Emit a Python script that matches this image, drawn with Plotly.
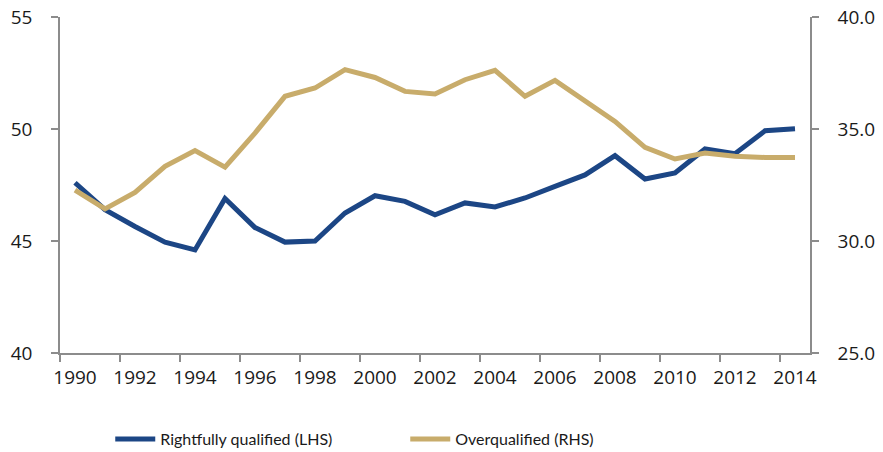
import plotly.graph_objects as go

years = list(range(1990, 2015))
rightfully_qualified = [47.6, 46.4, 45.65, 44.95, 44.6, 46.9, 45.6, 44.95, 45.0, 46.25,
                        47.02, 46.77, 46.17, 46.7, 46.52, 46.92, 47.44, 47.95, 48.81, 47.77,
                        48.04, 49.11, 48.9, 49.92, 50.01]
overqualified = [32.27, 31.43, 32.17, 33.33, 34.04, 33.3, 34.82, 36.46, 36.83, 37.65,
                 37.3, 36.68, 36.56, 37.2, 37.62, 36.46, 37.17, 36.28, 35.34, 34.18,
                 33.66, 33.93, 33.78, 33.73, 33.73]
left_ticks = [40, 45, 50, 55]
right_ticks = [25, 30, 35, 40]
x_labels = list(range(1990, 2015, 2))

BLUE = "#1C4685"
GOLD = "#C8AC6B"
AXIS = "#8C8C8C"
FONT = "Open Sans, Noto Sans, sans-serif"
LEGEND_FONT = "Lato, sans-serif"

fig = go.Figure()
fig.add_trace(go.Scatter(x=years, y=rightfully_qualified, mode="lines",
                         name="Rightfully qualified (LHS)",
                         line=dict(color=BLUE, width=5)))
fig.add_trace(go.Scatter(x=years, y=overqualified, mode="lines",
                         name="Overqualified (RHS)", yaxis="y2",
                         line=dict(color=GOLD, width=5)))

fig.update_layout(
    width=883, height=452,
    margin=dict(l=60, r=73, t=17, b=99, autoexpand=False),
    paper_bgcolor="white", plot_bgcolor="white",
    font=dict(family=FONT, size=19, color="#1a1a1a"),
    showlegend=True,
    legend=dict(orientation="h", x=0.067, xanchor="left", y=-0.256, yanchor="middle",
                font=dict(size=16, family=LEGEND_FONT), entrywidth=240,
                entrywidthmode="pixels", itemwidth=40),
    xaxis=dict(range=[1989.5, 2014.5], tickvals=x_labels, ticktext=[str(v) for v in x_labels],
               ticks="", showgrid=False, zeroline=False, automargin=False,
               showline=True, linecolor=AXIS, linewidth=1.5, ticklabeloverflow="allow",
               minor=dict(ticks="outside", tick0=1989.5, dtick=2, ticklen=7,
                          tickcolor=AXIS, tickwidth=1.5, showgrid=False),
               ticklabelstandoff=6),
    yaxis=dict(range=[40, 55], tickvals=left_ticks, ticks="outside", ticklen=7,
               tickcolor=AXIS, tickwidth=1.5, showgrid=False, zeroline=False,
               automargin=False, ticklabeloverflow="allow",
               showline=True, linecolor=AXIS, linewidth=1.5, ticklabelstandoff=15),
    yaxis2=dict(range=[25, 40], tickvals=right_ticks, tickformat=".1f", overlaying="y",
                side="right", ticks="outside", ticklen=7, tickcolor=AXIS, tickwidth=1.5,
                showgrid=False, zeroline=False, showline=True, linecolor=AXIS,
                automargin=False, ticklabeloverflow="allow",
                linewidth=1.5, ticklabelstandoff=15),
)

fig.write_html("out.html", config={"displayModeBar": False},
               post_script="document.body.style.margin='0';document.body.style.overflow='hidden';")
